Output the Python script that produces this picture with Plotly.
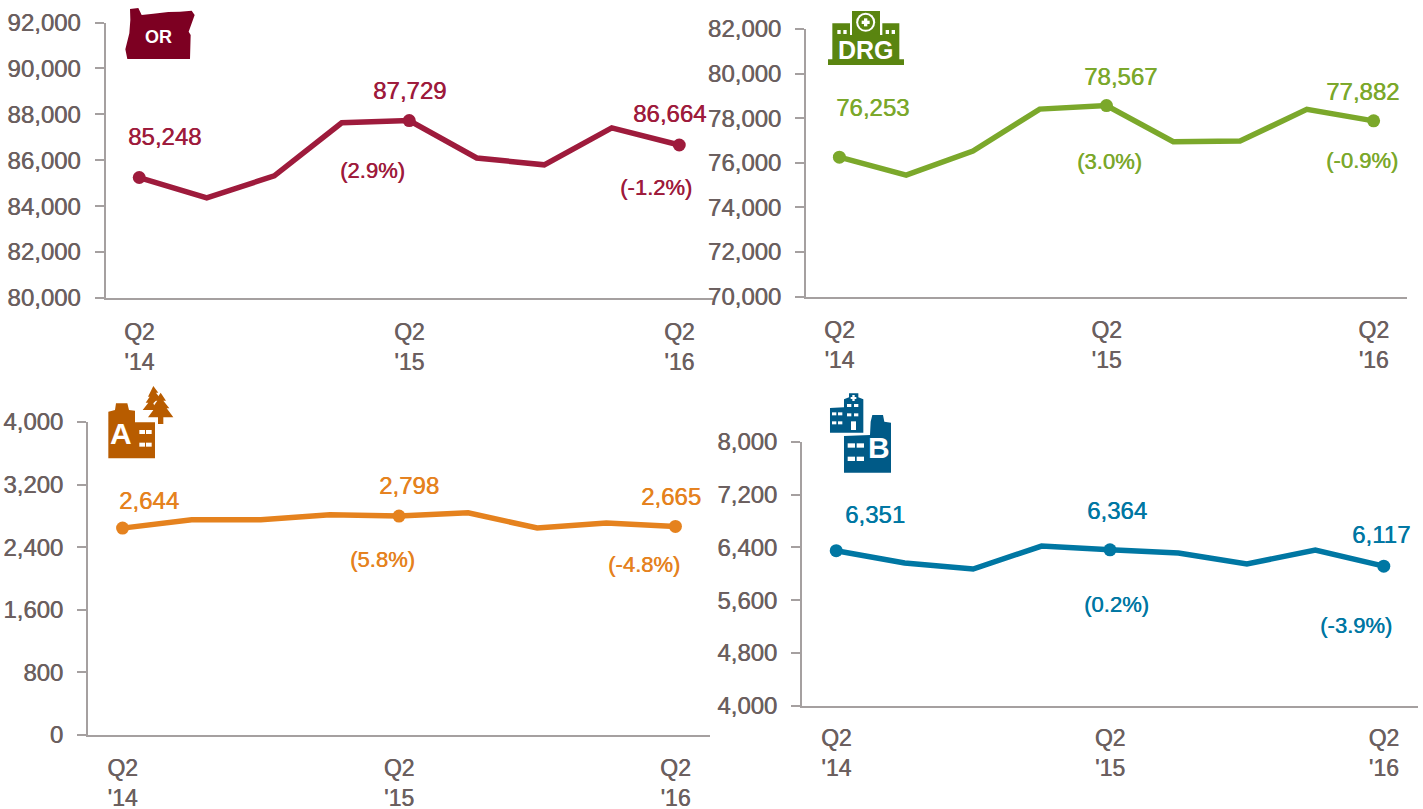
import plotly.graph_objects as go

W, H = 1423, 809
FONT = "Liberation Sans"
GRAY = "#6b5f5f"
AXIS = "#a5a0a0"

quarters = ["Q2 '14", "Q3 '14", "Q4 '14", "Q1 '15", "Q2 '15", "Q3 '15", "Q4 '15", "Q1 '16", "Q2 '16"]
tick_quarters = ["Q2 '14", "Q2 '15", "Q2 '16"]
tick_labels = ["Q2<br>'14", "Q2<br>'15", "Q2<br>'16"]

or_values = [85248, 84360, 85320, 87630, 87729, 86100, 85800, 87410, 86664]
drg_values = [76253, 75450, 76530, 78410, 78567, 76950, 76975, 78400, 77882]
a_values = [2644, 2750, 2750, 2815, 2798, 2840, 2645, 2710, 2665]
b_values = [6351, 6165, 6073, 6422, 6364, 6316, 6150, 6362, 6117]

or_ticks = [80000, 82000, 84000, 86000, 88000, 90000, 92000]
drg_ticks = [70000, 72000, 74000, 76000, 78000, 80000, 82000]
a_ticks = [0, 800, 1600, 2400, 3200, 4000]
b_ticks = [4000, 4800, 5600, 6400, 7200, 8000]

or_pct = ["(2.9%)", "(-1.2%)"]
drg_pct = ["(3.0%)", "(-0.9%)"]
a_pct = ["(5.8%)", "(-4.8%)"]
b_pct = ["(0.2%)", "(-3.9%)"]

panels = [
    dict(v=or_values, t=or_ticks, pct=or_pct, c="#9e1b3c", box=(105.5, 713, 22.5, 298), standoff=9, xs=12,
         off=[(25, 41), (0, 30), (-10, 32)], poff=[(-37, -50), (-23, -42)]),
    dict(v=drg_values, t=drg_ticks, pct=drg_pct, c="#7ba82b", box=(806, 1407, 29, 296.7), standoff=9, xs=12,
         off=[(33, 50), (14, 29), (-11, 29)], poff=[(3, -56), (-12, -40)]),
    dict(v=a_values, t=a_ticks, pct=a_pct, c="#e5821e", box=(88, 710, 422, 735), standoff=9, xs=11,
         off=[(26, 28), (10, 31), (-4, 30)], poff=[(-17, -43), (-31, -38)]),
    dict(v=b_values, t=b_ticks, pct=b_pct, c="#0077a3", box=(802, 1418, 442, 705.7), standoff=9, xs=11,
         off=[(39, 36), (7, 39), (-3, 32)], poff=[(6, -55), (-28, -59)]),
]

def tf(size, color):
    return dict(family=FONT, size=size, color=color, shadow=f"0.5px 0 0 {color}")

fig = go.Figure()
annotations = []
layout = {}

for i, p in enumerate(panels, start=1):
    x0, x1, y0, y1 = p["box"]
    xa, ya = f"xaxis{i}", f"yaxis{i}"
    xr, yr = f"x{i}", f"y{i}"
    sizes = [13 if q in tick_quarters else 0 for q in quarters]
    fig.add_trace(go.Scatter(x=quarters, y=p["v"], mode="lines+markers", xaxis=xr, yaxis=yr,
                             line=dict(color=p["c"], width=5.5),
                             marker=dict(color=p["c"], size=sizes, opacity=1, line=dict(width=0)),
                             showlegend=False, cliponaxis=False))
    layout[xa] = dict(domain=[x0 / W, x1 / W], anchor=yr, type="category", categoryorder="array",
                      categoryarray=quarters, range=[-0.5, 8.5], automargin=False,
                      tickmode="array", tickvals=tick_quarters, ticktext=tick_labels,
                      ticks="", showgrid=False, zeroline=False, showline=True, linecolor=AXIS, linewidth=2,
                      tickfont=tf(23, GRAY), ticklabelstandoff=p["xs"])
    layout[ya] = dict(domain=[1 - y1 / H, 1 - y0 / H], anchor=xr, range=[p["t"][0], p["t"][-1]], automargin=False,
                      tickmode="array", tickvals=p["t"], ticktext=[f"{t:,}" for t in p["t"]],
                      ticks="outside", ticklen=9, tickwidth=2, tickcolor=AXIS,
                      showgrid=False, zeroline=False, showline=True, linecolor=AXIS, linewidth=2,
                      tickfont=tf(24, GRAY), ticklabelstandoff=p["standoff"])
    for q, (dx, dy) in zip(tick_quarters, p["off"]):
        val = p["v"][quarters.index(q)]
        annotations.append(dict(x=q, y=val, xref=xr, yref=yr, text=f"{val:,}", showarrow=False,
                                xshift=dx, yshift=dy, font=tf(24, p["c"])))
    for q, txt, (dx, dy) in zip(tick_quarters[1:], p["pct"], p["poff"]):
        val = p["v"][quarters.index(q)]
        annotations.append(dict(x=q, y=val, xref=xr, yref=yr, text=txt, showarrow=False,
                                xshift=dx, yshift=dy, font=tf(22, p["c"])))

shapes = []
def X(px): return px / W
def Y(py): return 1 - py / H
def poly(pts, color):
    d = "M" + " L".join(f"{X(a):.5f},{Y(b):.5f}" for a, b in pts) + " Z"
    shapes.append(dict(type="path", path=d, xref="paper", yref="paper", fillcolor=color, line=dict(width=0)))
def rect(a, b, c, d, color):
    shapes.append(dict(type="rect", x0=X(a), x1=X(c), y0=Y(b), y1=Y(d), xref="paper", yref="paper",
                       fillcolor=color, line=dict(width=0)))
def circ(cx, cy, r, color):
    shapes.append(dict(type="circle", x0=X(cx - r), x1=X(cx + r), y0=Y(cy - r), y1=Y(cy + r),
                       xref="paper", yref="paper", fillcolor=color, line=dict(width=0)))
def icon_text(cx, cy, txt, size):
    annotations.append(dict(x=X(cx), y=Y(cy), xref="paper", yref="paper", text=txt, showarrow=False,
                            xanchor="center", yanchor="middle",
                            font=dict(family=FONT, size=size, color="white")))
def z(ox, oy, pts):
    return [(ox + a / 3, oy + b / 3) for a, b in pts]

# Oregon icon
RED = "#7d0022"
poly(z(0, 0, [(390, 27), (415, 24), (425, 45), (460, 41), (505, 36), (540, 35), (575, 32), (584, 45),
              (566, 95), (572, 105), (570, 177), (382, 177), (376, 148), (388, 100), (391, 60)]), RED)
icon_text(158.5, 37, "<b>OR</b>", 18)

# DRG icon
G = "#5a8510"
WH = "white"
rect(700 + 384 / 3, 178 / 3, 700 + 612 / 3, 195 / 3, G)
rect(700 + 397 / 3, 70 / 3, 700 + 598 / 3, 180 / 3, G)
rect(700 + 456 / 3, 33 / 3, 700 + 540 / 3, 100 / 3, G)
rect(700 + 450 / 3, 50 / 3, 700 + 456 / 3, 105 / 3, WH)
rect(700 + 540 / 3, 50 / 3, 700 + 547 / 3, 105 / 3, WH)
circ(700 + 497 / 3, 67 / 3, 9.5, WH)
circ(700 + 497 / 3, 67 / 3, 7.5, G)
rect(700 + 492 / 3, 55 / 3, 700 + 502 / 3, 79 / 3, WH)
rect(700 + 485 / 3, 62 / 3, 700 + 509 / 3, 72 / 3, WH)
for wx in (412, 430, 557, 575):
    rect(700 + wx / 3, 90 / 3, 700 + (wx + 10) / 3, 102 / 3, WH)
icon_text(865.5, 50, "<b>DRG</b>", 25)

# A icon (building and trees)
O = "#b85c00"
poly(z(0, 380, [(325, 95), (345, 90), (348, 70), (382, 70), (387, 90), (405, 92), (405, 127), (465, 127),
                (465, 235), (325, 235)]), O)
icon_text(121, 433, "<b>A</b>", 30)
for wx, wy in ((418, 150), (438, 150), (418, 188), (438, 188)):
    rect(wx / 3, 380 + wy / 3, (wx + 17) / 3, 380 + (wy + 12) / 3, WH)
poly(z(0, 380, [(460, 18), (475, 38), (468, 38), (478, 52), (460, 70), (468, 90), (428, 90), (445, 68), (437, 68),
                (449, 50), (444, 50)]), O)
poly(z(0, 380, [(482, 38), (498, 62), (490, 62), (508, 85), (500, 85), (520, 112), (490, 112), (490, 132),
                (474, 132), (474, 112), (444, 112), (464, 85), (456, 85), (472, 62), (466, 62)]), O)

# B icon (two buildings)
B = "#005a87"
poly(z(700, 380, [(432, 168), (510, 165), (512, 125), (517, 105), (549, 105), (553, 125), (573, 128),
                  (573, 278), (432, 278)]), B)
icon_text(879, 447, "<b>B</b>", 30)
for wx, wy in ((443, 190), (470, 190), (443, 230), (470, 230)):
    rect(700 + wx / 3, 380 + wy / 3, 700 + (wx + 22) / 3, 380 + (wy + 13) / 3, WH)
poly(z(700, 380, [(390, 84), (432, 82), (432, 58), (447, 52), (447, 40), (475, 40), (475, 52), (490, 58),
                  (490, 158), (390, 158)]), B)
rect(700 + 457 / 3, 45 / 3 + 380, 700 + 464 / 3, 63 / 3 + 380, WH)
rect(700 + 452 / 3, 51 / 3 + 380, 700 + 469 / 3, 57 / 3 + 380, WH)
for wx, wy in ((396, 97), (414, 97), (396, 124), (414, 124), (441, 72), (462, 72), (441, 100), (462, 100)):
    rect(700 + wx / 3, 380 + wy / 3, 700 + (wx + 13) / 3, 380 + (wy + 9) / 3, WH)
rect(700 + 453 / 3, 380 + 124 / 3, 700 + 468 / 3, 380 + 150 / 3, WH)

fig.update_layout(width=W, height=H, margin=dict(l=0, r=0, t=0, b=0), paper_bgcolor="white", plot_bgcolor="rgba(0,0,0,0)",
                  annotations=annotations, shapes=shapes, **layout)
fig.write_html("out.html", config=dict(displayModeBar=False),
               post_script="document.body.style.margin='0';document.body.style.overflow='hidden';")
